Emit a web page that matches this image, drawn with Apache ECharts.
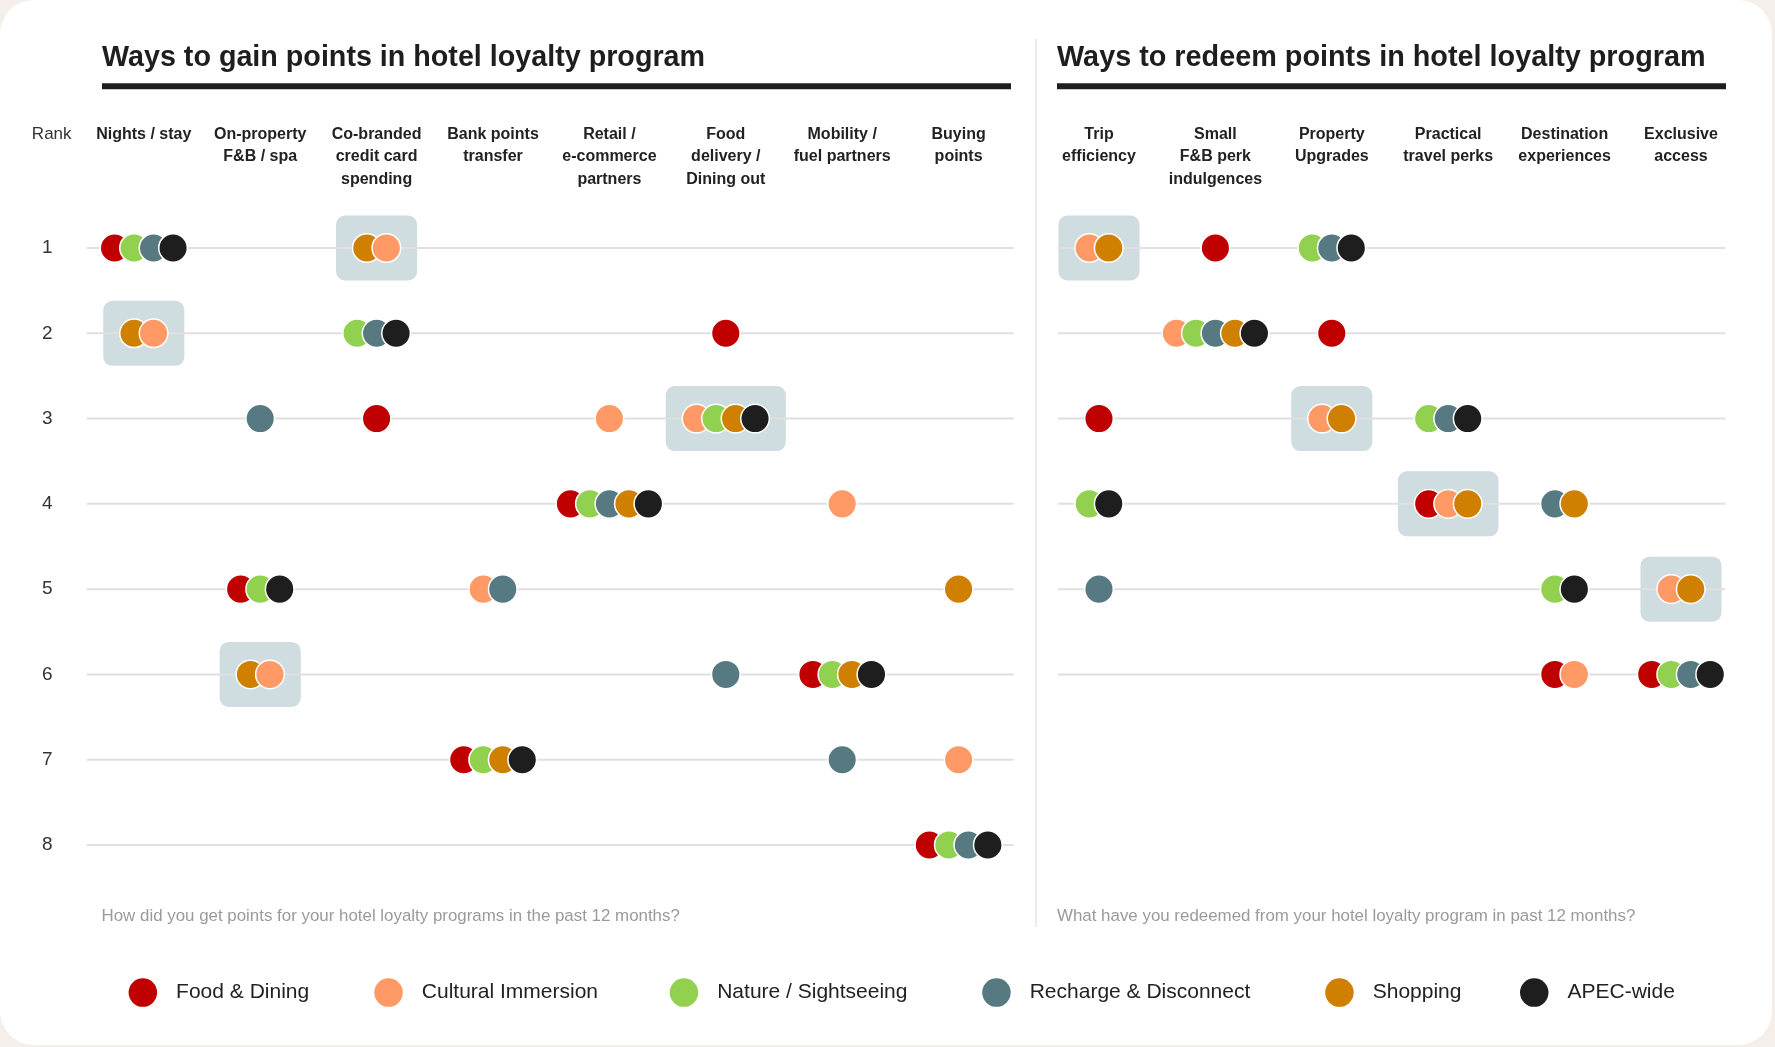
<!DOCTYPE html>
<html>
<head>
<meta charset="utf-8">
<title>Hotel loyalty program – gain vs redeem</title>
<script src="https://cdn.jsdelivr.net/npm/echarts@6/dist/echarts.min.js"></script>
<style>
  html, body { margin: 0; padding: 0; background: #f4efeb; }
  #card { position: absolute; left: 0; top: 0; width: 1772px; height: 1045px; background: #fff; border-radius: 34px; }
  #chart { position: absolute; left: 0; top: 0; width: 1775px; height: 1047px; }
</style>
</head>
<body>
<div id="card"></div>
<div id="chart"></div>
<script>
// categories
const gainCategories = ['Nights / stay', 'On-property\nF&B / spa', 'Co-branded\ncredit card\nspending', 'Bank points\ntransfer',
  'Retail /\ne-commerce\npartners', 'Food\ndelivery /\nDining out', 'Mobility /\nfuel partners', 'Buying\npoints'];
const redeemCategories = ['Trip\nefficiency', 'Small\nF&B perk\nindulgences', 'Property\nUpgrades', 'Practical\ntravel perks',
  'Destination\nexperiences', 'Exclusive\naccess'];
const rankLabels = ['1', '2', '3', '4', '5', '6', '7', '8'];

// segments (legend) : 0 Food, 1 Cultural, 2 Nature, 3 Recharge, 4 Shopping, 5 APEC
const segmentNames = ['Food & Dining', 'Cultural Immersion', 'Nature / Sightseeing', 'Recharge & Disconnect', 'Shopping', 'APEC-wide'];
const segmentColors = ['#c00000', '#ff9966', '#92d050', '#577a82', '#d08000', '#1e1e1e'];

// [column, rank, segments in drawing order]
const gainGroups = [
  [0, 1, [0, 2, 3, 5]], [2, 1, [4, 1]],
  [0, 2, [4, 1]], [2, 2, [2, 3, 5]], [5, 2, [0]],
  [1, 3, [3]], [2, 3, [0]], [4, 3, [1]], [5, 3, [1, 2, 4, 5]],
  [4, 4, [0, 2, 3, 4, 5]], [6, 4, [1]],
  [1, 5, [0, 2, 5]], [3, 5, [1, 3]], [7, 5, [4]],
  [1, 6, [4, 1]], [5, 6, [3]], [6, 6, [0, 2, 4, 5]],
  [3, 7, [0, 2, 4, 5]], [6, 7, [3]], [7, 7, [1]],
  [7, 8, [0, 2, 3, 5]]
];
const redeemGroups = [
  [0, 1, [1, 4]], [1, 1, [0]], [2, 1, [2, 3, 5]],
  [1, 2, [1, 2, 3, 4, 5]], [2, 2, [0]],
  [0, 3, [0]], [2, 3, [1, 4]], [3, 3, [2, 3, 5]],
  [0, 4, [2, 5]], [3, 4, [0, 1, 4]], [4, 4, [3, 4]],
  [0, 5, [3]], [4, 5, [2, 5]], [5, 5, [1, 4]],
  [4, 6, [0, 1]], [5, 6, [0, 2, 3, 5]]
];
// highlighted cells [column, rank]
const gainHighlights = [[2, 1], [0, 2], [5, 3], [1, 6]];
const redeemHighlights = [[0, 1], [2, 3], [3, 4], [5, 5]];
// ranks that get a guide line
const gainLineRanks = [1, 2, 3, 4, 5, 6, 7, 8];
const redeemLineRanks = [1, 2, 3, 4, 5, 6];

const FONT = "'Liberation Sans', Arial, sans-serif";
const DOT_R = 14.3;
const DOT_GAP = 19.5;

const chart = echarts.init(document.getElementById('chart'));

function dotsRender(groups) {
  return (params, api) => {
    const g = groups[params.dataIndex];
    const p = api.coord([g[0], g[1]]);
    const n = g[2].length;
    return {
      type: 'group',
      children: g[2].map((s, i) => ({
        type: 'circle',
        shape: { cx: p[0] + (i - (n - 1) / 2) * DOT_GAP, cy: p[1], r: DOT_R },
        style: { fill: segmentColors[s], stroke: '#fff', lineWidth: 1.5 }
      }))
    };
  };
}

function boxRender(highlights, groups) {
  return (params, api) => {
    const h = highlights[params.dataIndex];
    const g = groups.find(x => x[0] === h[0] && x[1] === h[1]);
    const n = g ? g[2].length : 1;
    const p = api.coord(h);
    const w = (n - 1) * DOT_GAP + DOT_R * 2 + 33;
    const hgt = 65;
    return {
      type: 'rect',
      shape: { x: p[0] - w / 2, y: p[1] - hgt / 2, width: w, height: hgt, r: 9 },
      style: { fill: '#cfdce0' }
    };
  };
}

function lineRender(insetL, insetR) {
  return (params, api) => {
    const cs = params.coordSys;
    const y = api.coord([0, api.value(1)])[1];
    return {
      type: 'line',
      shape: { x1: cs.x + insetL, y1: y, x2: cs.x + cs.width - insetR, y2: y },
      style: { stroke: '#e0e0e0', lineWidth: 2 }
    };
  };
}

const xAxisBase = {
  type: 'category',
  position: 'top',
  axisLine: { show: false },
  axisTick: { show: false },
  axisLabel: {
    interval: 0, margin: 125, verticalAlign: 'top', lineHeight: 22.6,
    fontSize: 16, fontWeight: 'bold', color: '#222', fontFamily: FONT
  }
};
const yAxisBase = {
  type: 'value', min: 1, max: 8, interval: 1, inverse: true,
  axisLine: { show: false }, axisTick: { show: false }, splitLine: { show: false }
};

const option = {
  animation: false,
  textStyle: { fontFamily: FONT },
  grid: [
    { left: 85.6, top: 248, width: 931.2, height: 597 },
    { left: 1040.8, top: 248, width: 698.4, height: 597 }
  ],
  xAxis: [
    { ...xAxisBase, gridIndex: 0, data: gainCategories },
    { ...xAxisBase, gridIndex: 1, data: redeemCategories }
  ],
  yAxis: [
    {
      ...yAxisBase, gridIndex: 0,
      axisLabel: { margin: 33, fontSize: 19, color: '#333', fontFamily: FONT, formatter: v => rankLabels[v - 1] }
    },
    { ...yAxisBase, gridIndex: 1, axisLabel: { show: false } }
  ],
  legend: segmentNames.map((name, i) => ({
    data: [name],
    left: [128.6, 374.3, 669.7, 982.2, 1325.2, 1520][i],
    top: 978.3,
    padding: 0,
    icon: 'circle',
    itemWidth: 28.5,
    itemHeight: 28.5,
    selectedMode: false,
    itemStyle: { opacity: 1 },
    textStyle: { fontSize: 21, color: '#222', fontFamily: FONT, padding: [0, 0, 0, 14] }
  })),
  graphic: [
    { type: 'text', x: 102, y: 58.5, style: { text: 'Ways to gain points in hotel loyalty program', fontSize: 28.7, fontWeight: 'bold', fontFamily: FONT, fill: '#1e1e1e', verticalAlign: 'middle' } },
    { type: 'text', x: 1057, y: 58.5, style: { text: 'Ways to redeem points in hotel loyalty program', fontSize: 28.8, fontWeight: 'bold', fontFamily: FONT, fill: '#1e1e1e', verticalAlign: 'middle' } },
    { type: 'rect', shape: { x: 102, y: 83.3, width: 909, height: 6 }, style: { fill: '#1e1e1e' } },
    { type: 'rect', shape: { x: 1057, y: 83.3, width: 669, height: 6 }, style: { fill: '#1e1e1e' } },
    { type: 'line', shape: { x1: 1036, y1: 39, x2: 1036, y2: 927 }, style: { stroke: '#dfe7e5', lineWidth: 1.5 } },
    { type: 'text', x: 51.7, y: 134, style: { text: 'Rank', fontSize: 17, fontFamily: FONT, fill: '#333', align: 'center', verticalAlign: 'middle' } },
    { type: 'text', x: 101.5, y: 916.7, style: { text: 'How did you get points for your hotel loyalty programs in the past 12 months?', fontSize: 16.9, fontFamily: FONT, fill: '#9a9a9a', verticalAlign: 'middle' } },
    { type: 'text', x: 1057, y: 916.7, style: { text: 'What have you redeemed from your hotel loyalty program in past 12 months?', fontSize: 16.9, fontFamily: FONT, fill: '#9a9a9a', verticalAlign: 'middle' } }
  ],
  series: [
    // highlight boxes (below the guide lines)
    { type: 'custom', xAxisIndex: 0, yAxisIndex: 0, clip: false, z: 1, silent: true,
      data: gainHighlights, renderItem: boxRender(gainHighlights, gainGroups) },
    { type: 'custom', xAxisIndex: 1, yAxisIndex: 1, clip: false, z: 1, silent: true,
      data: redeemHighlights, renderItem: boxRender(redeemHighlights, redeemGroups) },
    // rank guide lines
    { type: 'custom', xAxisIndex: 0, yAxisIndex: 0, clip: false, z: 2, silent: true,
      data: gainLineRanks.map(r => [0, r]), renderItem: lineRender(1, 3) },
    { type: 'custom', xAxisIndex: 1, yAxisIndex: 1, clip: false, z: 2, silent: true,
      data: redeemLineRanks.map(r => [0, r]), renderItem: lineRender(17, 14) },
    // dots
    { type: 'custom', xAxisIndex: 0, yAxisIndex: 0, clip: false, z: 3,
      data: gainGroups.map(g => [g[0], g[1]]), renderItem: dotsRender(gainGroups) },
    { type: 'custom', xAxisIndex: 1, yAxisIndex: 1, clip: false, z: 3,
      data: redeemGroups.map(g => [g[0], g[1]]), renderItem: dotsRender(redeemGroups) },
    // legend entries
    ...segmentNames.map((name, i) => ({
      type: 'scatter', name, xAxisIndex: 0, yAxisIndex: 0, data: [],
      itemStyle: { color: segmentColors[i], opacity: 1 }
    }))
  ]
};

chart.setOption(option);
</script>
</body>
</html>
